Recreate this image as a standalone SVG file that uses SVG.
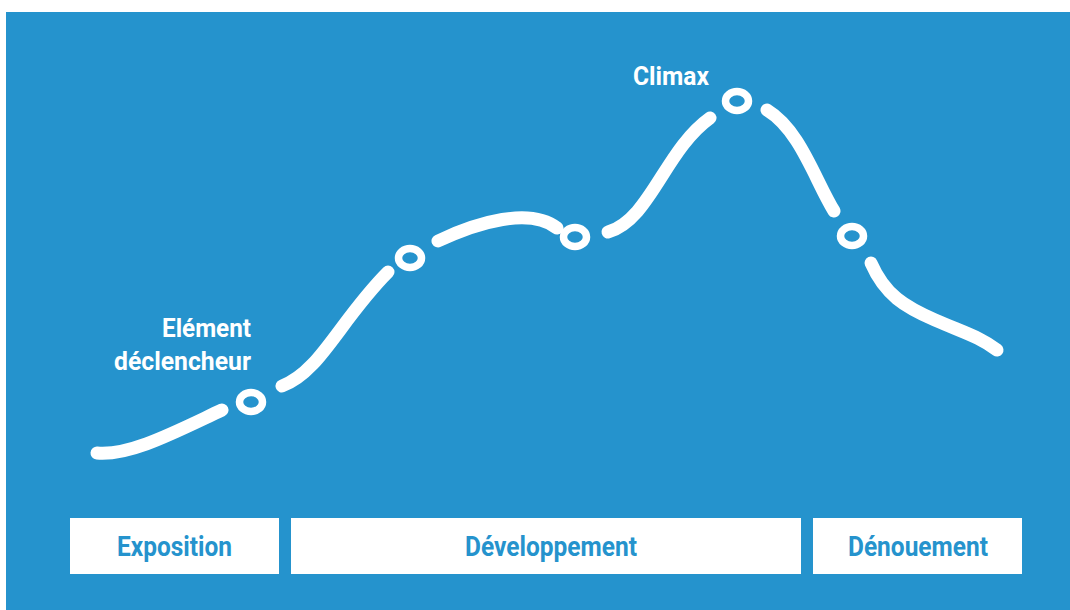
<svg xmlns="http://www.w3.org/2000/svg" width="1070" height="610" viewBox="0 0 1070 610">
<style>
.curve{fill:none;stroke:#fff;stroke-width:13;stroke-linecap:round}
.pt{fill:none;stroke:#fff;stroke-width:7.5}
.lbl{font-family:Roboto,"Liberation Sans",sans-serif;font-weight:700;font-size:25px;fill:#fff}
.box{fill:#fff}
.btxt{font-family:Roboto,"Liberation Sans",sans-serif;font-weight:700;font-size:27px;fill:#2593cd;text-anchor:middle}
</style>
<rect x="0" y="0" width="1070" height="610" fill="#fff"/>
<rect x="6" y="12" width="1064" height="598" fill="#2593cd"/>
<g id="connectors">
<path class="curve" d="M97,453 C130,456 175,432 222,410"/>
<path class="curve" d="M282,386 C320,372 340,320 388,272"/>
<path class="curve" d="M438,241 C478,222 530,207 557,228"/>
<path class="curve" d="M608,232 C650,220 665,150 710,118"/>
<path class="curve" d="M767,110 C800,130 815,180 834,211"/>
<path class="curve" d="M871,263 C885,295 905,307 935,320 S980,337 997,350"/>
</g>
<g id="p1"><ellipse class="pt" cx="251" cy="402" rx="11.5" ry="9.5"/></g>
<g id="p2"><ellipse class="pt" cx="410" cy="258" rx="11.5" ry="9.5"/></g>
<g id="p3"><ellipse class="pt" cx="575" cy="237" rx="11.5" ry="9.5"/></g>
<g id="p4"><ellipse class="pt" cx="737" cy="101" rx="11.5" ry="9.5"/></g>
<g id="p5"><ellipse class="pt" cx="852" cy="236" rx="11.5" ry="9.5"/></g>
<g id="label-climax"><text class="lbl" x="633" y="85" textLength="76" lengthAdjust="spacingAndGlyphs">Climax</text></g>
<g id="label-element">
<text class="lbl" x="162" y="337" textLength="89" lengthAdjust="spacingAndGlyphs">Elément</text>
<text class="lbl" x="114" y="370" textLength="137" lengthAdjust="spacingAndGlyphs">déclencheur</text>
</g>
<g id="box-exposition"><rect class="box" x="70" y="518" width="209" height="56"/><text class="btxt" x="174.5" y="556" textLength="115" lengthAdjust="spacingAndGlyphs">Exposition</text></g>
<g id="box-developpement"><rect class="box" x="291" y="518" width="510" height="56"/><text class="btxt" x="551" y="556" textLength="172" lengthAdjust="spacingAndGlyphs">Développement</text></g>
<g id="box-denouement"><rect class="box" x="813" y="518" width="209" height="56"/><text class="btxt" x="918" y="556" textLength="140" lengthAdjust="spacingAndGlyphs">Dénouement</text></g>
</svg>
